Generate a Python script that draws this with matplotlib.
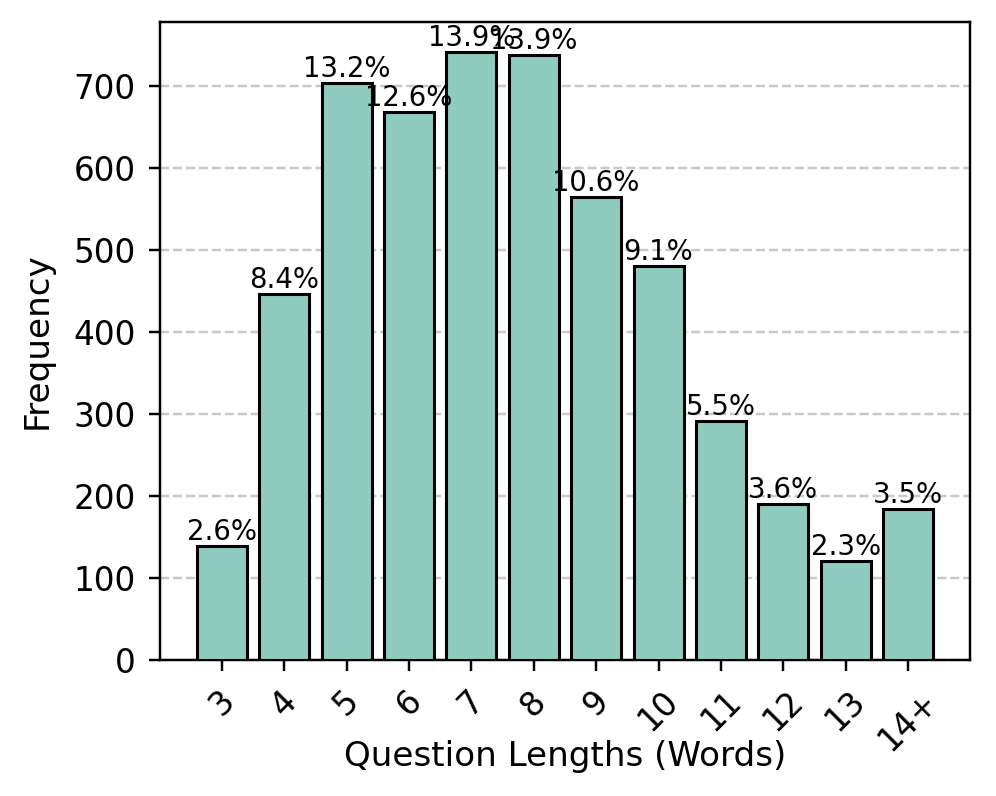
import numpy as np
import matplotlib.pyplot as plt

lengths = ["3", "4", "5", "6", "7", "8", "9", "10", "11", "12", "13", "14+"]
counts = [139, 446, 704, 668, 741, 738, 565, 481, 292, 190, 121, 184]
percents = [2.6, 8.4, 13.2, 12.6, 13.9, 13.9, 10.6, 9.1, 5.5, 3.6, 2.3, 3.5]

bar_color = "#8fcbbe"

DPI = 220
fig, ax = plt.subplots(figsize=(996 / DPI, 796 / DPI), dpi=DPI)
fig.subplots_adjust(left=0.1606, right=0.9739, top=0.9724, bottom=0.1709)

x = np.arange(len(lengths))
bars = ax.bar(x, counts, width=0.8, color=bar_color, edgecolor="black", linewidth=1.0, zorder=3)

# percentage labels on top of each bar
for b, p in zip(bars, percents):
    ax.text(b.get_x() + b.get_width() / 2, b.get_height(), f"{p}%",
            ha="center", va="bottom", fontsize=9, zorder=4)

ax.set_xticks(x)
ax.set_xticklabels(lengths, rotation=45, fontsize=10.7)
ax.tick_params(axis="both", labelsize=10.7, pad=4.3, length=3.7)
ax.set_xlabel("Question Lengths (Words)", fontsize=11.2, labelpad=-5.5)
ax.set_ylabel("Frequency", fontsize=11.2, labelpad=6.5)
ax.grid(axis="y", linestyle="--", color="#bbbbbb", alpha=0.8, zorder=0)

fig.savefig("out.png", dpi=DPI)
